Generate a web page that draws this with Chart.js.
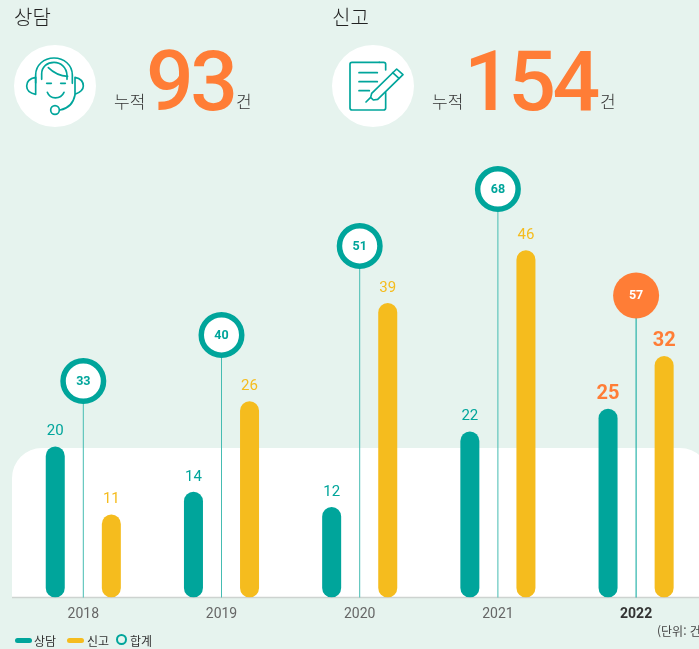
<!DOCTYPE html>
<html lang="ko">
<head>
<meta charset="utf-8">
<title>상담 신고 현황</title>
<script src="https://cdn.jsdelivr.net/npm/chart.js@4"></script>
<style>
  html, body { margin: 0; padding: 0; width: 699px; height: 649px; overflow: hidden; background: #e6f3ee; }
  body { position: relative; font-family: Roboto, "Noto Sans CJK KR", sans-serif; color: #2b2b2b; }
  #chart { position: absolute; left: 0; top: 0; display: block; }
  .t { position: absolute; white-space: nowrap; line-height: 1; }
  .head { font-family: "Noto Sans CJK KR", sans-serif; font-weight: 300; font-size: 20px; top: 7px; color: #222; }
  .small { font-family: "Noto Sans CJK KR", sans-serif; font-weight: 300; font-size: 17px; top: 92px; color: #333; }
  .big { font-family: Roboto, sans-serif; font-weight: 500; font-size: 84px; letter-spacing: -3.5px; color: #ff7d36; top: 40px; }
  .disc { position: absolute; top: 45px; width: 82px; height: 82px; border-radius: 50%; background: #fff; }
  svg.icon { position: absolute; top: 50px; width: 70px; height: 70px; fill: none; stroke: #00a59b; stroke-width: 5; stroke-linecap: round; stroke-linejoin: round; }
  .unit { font-family: "Noto Sans CJK KR", sans-serif; font-size: 12px; left: 657px; top: 625px; color: #444; }
  .lg { font-family: "Noto Sans CJK KR", sans-serif; font-size: 12px; top: 635px; color: #333; }
  .swatch { position: absolute; top: 638px; width: 17px; height: 5px; border-radius: 3px; }
  .ring { position: absolute; left: 116px; top: 634px; width: 7px; height: 7px; border: 2.5px solid #00a59b; border-radius: 50%; }
</style>
</head>
<body>
<canvas id="chart" width="720" height="649"></canvas>

<div class="t head" style="left:14px">상담</div>
<div class="t head" style="left:332px">신고</div>

<div class="disc" style="left:14px"></div>
<svg class="icon" style="left:20px" viewBox="0 0 210 210">
  <path d="M47 98V75C47 45 72 24 102 24S157 45 157 75V100"/>
  <path d="M65 88V72C65 50 82 37 102 37S140 52 141 76V88"/>
  <path d="M85 53C100 68 122 78 143 79"/>
  <path d="M47 82C30 85 20 95 20 108S32 130 47 133Z"/>
  <path d="M165 82C180 85 190 95 190 108S178 128 165 133Z"/>
  <path d="M165 135C160 160 148 175 120 180"/>
  <circle cx="105" cy="180" r="13"/>
  <path d="M80 100H94M122 100H136"/>
  <path d="M82 127C90 149 122 149 132 127"/>
</svg>
<div class="t small" style="left:114px">누적</div>
<div class="t big" id="bigConsult" style="left:146px"></div>
<div class="t small" style="left:236px">건</div>

<div class="disc" style="left:332px"></div>
<svg class="icon" style="left:340px" viewBox="0 0 210 210">
  <path d="M118 37H36Q30 37 30 43V174Q30 180 36 180H131Q137 180 137 174V128"/>
  <path d="M118 37H131Q137 37 137 43V60"/>
  <path d="M57 68H112M57 95H112M57 122H88"/>
  <path d="M78 156L92 142L95 130L170 57L189 74L113 148L100 150L92 142"/>
  <path d="M158 68L177 85"/>
</svg>
<div class="t small" style="left:432px">누적</div>
<div class="t big" id="bigReport" style="left:464px"></div>
<div class="t small" style="left:600px">건</div>

<div class="t unit">(단위: 건)</div>

<span class="swatch" style="left:15px;background:#00a59b"></span>
<div class="t lg" id="lg0" style="left:34px"></div>
<span class="swatch" style="left:67px;background:#f5bc1e"></span>
<div class="t lg" id="lg1" style="left:87px"></div>
<span class="ring"></span>
<div class="t lg" id="lg2" style="left:130px"></div>

<script>
// ---- data ----
const categories = ['2018', '2019', '2020', '2021', '2022'];
const consultCounts = [20, 14, 12, 22, 25];
const reportCounts = [11, 26, 39, 46, 32];
const totalCounts = [33, 40, 51, 68, 57];
// Height of each total's circle, read on the bar scale (the picture does not place them by value).
const totalLevels = [28.67, 34.77, 46.56, 54.1, 40.0];
const seriesNames = ['상담', '신고', '합계'];
const cumulativeConsult = '93';
const cumulativeReport = '154';
const highlightIndex = 4;

const TEAL = '#00a59b', YELLOW = '#f5bc1e', ORANGE = '#ff7d36';

document.getElementById('bigConsult').textContent = cumulativeConsult;
document.getElementById('bigReport').textContent = cumulativeReport;
seriesNames.forEach((n, i) => { document.getElementById('lg' + i).textContent = n; });

const decor = {
  id: 'decor',
  beforeDraw(chart) {
    const c = chart.ctx, a = chart.chartArea, base = chart.scales.y.getPixelForValue(0);
    c.save();
    c.fillStyle = '#fff';
    c.beginPath();
    c.roundRect(12, 448, 698, base - 448, [30, 30, 0, 0]);
    c.fill();
    c.strokeStyle = '#cdd3d0';
    c.lineWidth = 1.5;
    c.beginPath();
    c.moveTo(12, base);
    c.lineTo(a.right + 15, base);
    c.stroke();
    c.restore();
  },
  beforeDatasetsDraw(chart) {
    const c = chart.ctx, base = chart.scales.y.getPixelForValue(0);
    c.save();
    chart.getDatasetMeta(2).data.forEach((p, i) => {
      c.strokeStyle = i === highlightIndex ? TEAL : '#45bcb2';
      c.lineWidth = 1;
      c.beginPath();
      c.moveTo(p.x, p.y);
      c.lineTo(p.x, base);
      c.stroke();
    });
    c.restore();
  },
  afterDatasetsDraw(chart) {
    const c = chart.ctx;
    c.save();
    c.textAlign = 'center';
    c.textBaseline = 'middle';
    [0, 1].forEach(ds => {
      chart.getDatasetMeta(ds).data.forEach((bar, i) => {
        const hi = i === highlightIndex;
        c.font = (hi ? '700 20px' : '400 15px') + ' Roboto, sans-serif';
        c.fillStyle = hi ? ORANGE : (ds === 0 ? TEAL : YELLOW);
        c.fillText(String(chart.data.datasets[ds].data[i]), bar.x, bar.y - 15);
      });
    });
    chart.getDatasetMeta(2).data.forEach((p, i) => {
      const hi = i === highlightIndex;
      c.font = '700 12.5px Roboto, sans-serif';
      c.fillStyle = hi ? '#fff' : TEAL;
      c.fillText(String(totalCounts[i]), p.x, p.y + 0.5);
    });
    c.restore();
  }
};

new Chart(document.getElementById('chart'), {
  type: 'bar',
  data: {
    labels: categories,
    datasets: [
      { label: seriesNames[0], data: consultCounts, backgroundColor: TEAL },
      { label: seriesNames[1], data: reportCounts, backgroundColor: YELLOW },
      {
        type: 'line', label: seriesNames[2], data: totalLevels, showLine: false,
        pointRadius: totalLevels.map((_, i) => i === highlightIndex ? 23 : 20.25),
        pointBorderWidth: totalLevels.map((_, i) => i === highlightIndex ? 0 : 5.5),
        pointBackgroundColor: totalLevels.map((_, i) => i === highlightIndex ? ORANGE : '#fff'),
        pointBorderColor: TEAL
      }
    ]
  },
  options: {
    responsive: false,
    animation: false,
    devicePixelRatio: 1,
    layout: { autoPadding: false, padding: { left: 14.2, right: 14.8, top: 144.5, bottom: 0 } },
    datasets: { bar: { categoryPercentage: 0.8116, barPercentage: 0.339, borderRadius: 9.5, borderSkipped: false } },
    plugins: { legend: { display: false }, tooltip: { enabled: false } },
    scales: {
      x: {
        grid: { display: false, drawTicks: false },
        border: { display: false },
        afterFit(s) { s.height = 51.5; },
        ticks: {
          autoSkip: false, maxRotation: 0, padding: 9,
          color: ctx => ctx.index === highlightIndex ? '#333' : '#666',
          font: ctx => ({ family: 'Roboto, sans-serif', size: 14, weight: ctx.index === highlightIndex ? '700' : '400' })
        }
      },
      y: { display: false, min: 0, max: 60 }
    }
  },
  plugins: [decor]
});
</script>
</body>
</html>
